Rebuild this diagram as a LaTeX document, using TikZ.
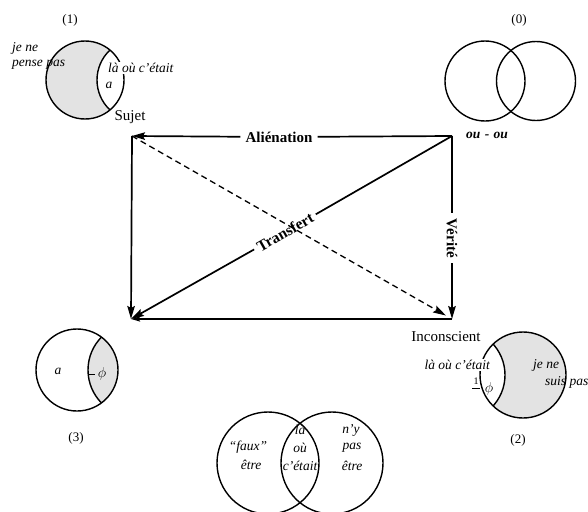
\documentclass[tikz,border=0pt]{standalone}
\usepackage{fontspec}
\setmainfont{Liberation Serif}
\usetikzlibrary{arrows.meta}
\begin{document}
\begin{tikzpicture}[x=1pt,y=-1pt,
  ring/.style={line width=1.4pt},
  conn/.style={line width=1.7pt},
  tipd/.style={-{Stealth[length=13pt,width=7.5pt,inset=2pt]}},
  tips/.style={-{Stealth[length=9pt,width=5pt,inset=1.5pt]}},
  shade/.style={fill=black!11},
  lab/.style={font=\fontsize{15}{17}\selectfont, inner sep=1pt},
  axis/.style={font=\fontsize{15}{17}\selectfont\bfseries, inner sep=5pt},
  itl/.style={font=\fontsize{13.5}{16}\selectfont\itshape, inner sep=1pt},
  num/.style={font=\fontsize{13}{15}\selectfont, inner sep=1pt}
]
\useasboundingbox (0,0) rectangle (588,511);

% ---- corners of the square ----
\coordinate (TL) at (132,136);
\coordinate (TR) at (452,136);
\coordinate (BL) at (131,319);
\coordinate (BR) at (452,319);

% ---- (1): subject circle ----
\begin{scope}
  \clip (85,80) circle[radius=39pt];
  \fill[shade] (85,80) circle[radius=39pt];
  \fill[white] (138,80) circle[radius=41pt];
  \draw[ring] (138,80) circle[radius=41pt];
\end{scope}
\draw[ring] (85,80) circle[radius=39pt];
\node[num] (n1) at (70,20) {(1)};
\node[itl, anchor=west] (jn1) at (11,48) {je ne};
\node[itl, anchor=west] (pp1) at (11,65) {pense pas};
\node[itl, anchor=west, fill=white] (lo1) at (107,68) {là où c'était};
\node[itl] (a1) at (109,85) {a};
\node[lab] (sujet) at (130,117) {Sujet};

% ---- (0): ou - ou ----
\draw[ring] (485,81) circle[radius=40pt];
\draw[ring] (536,81) circle[radius=39.5pt];
\node[num] (n0) at (519,20) {(0)};
\node[itl, font=\fontsize{13.5}{16}\selectfont\itshape\bfseries] (ouou) at (487,135) {ou\,\,-\,\,ou};

% ---- (3) ----
\begin{scope}
  \clip (77,370) circle[radius=41pt];
  \fill[shade] (135,370) circle[radius=47pt];
  \draw[ring] (135,370) circle[radius=47pt];
\end{scope}
\draw[ring] (77,370) circle[radius=41pt];
\node[itl] (a3) at (58,371) {a};
\coordinate (m3a) at (88,374);
\coordinate (m3b) at (95,374);
\draw[line width=1pt] (m3a) -- (m3b);
\node[lab, font=\fontsize{14}{16}\selectfont] (phi3) at (102,374) {$\phi$};
\node[num] (n3) at (76,438) {(3)};

% ---- (2): unconscious circle ----
\begin{scope}
  \clip (523,375) circle[radius=43pt];
  \fill[shade] (523,375) circle[radius=43pt];
  \fill[white] (459,375) circle[radius=46pt];
  \draw[ring] (459,375) circle[radius=46pt];
\end{scope}
\draw[ring] (523,375) circle[radius=43pt];
\node[itl, anchor=east, fill=white] (lo2) at (491,365) {là où c'était};
\node[itl, anchor=west] (jn2) at (532,365) {je ne};
\node[itl, anchor=west] (sp2) at (544,382) {suis pas};
\node[lab, font=\fontsize{10}{12}\selectfont] (one2) at (476,381) {1};
\coordinate (b2a) at (472,388);
\coordinate (b2b) at (480,388);
\draw[line width=0.9pt] (b2a) -- (b2b);
\node[lab, font=\fontsize{14}{16}\selectfont] (phi2) at (489,389) {$\phi$};
\node[num] (n2) at (518,440) {(2)};
\node[lab] (inco) at (446,337) {Inconscient};

% ---- bottom Venn diagram ----
\draw[ring] (268,463) circle[radius=51pt];
\draw[ring] (332,463) circle[radius=51pt];
\node[itl] (fx1) at (248,447) {“faux”};
\node[itl] (fx2) at (251,465) {être};
\node[itl] (lo3a) at (300,430) {là};
\node[itl] (lo3b) at (300,448) {où};
\node[itl] (lo3c) at (300,466) {c'était};
\node[itl] (ny1) at (351,430) {n'y};
\node[itl] (ny2) at (352,448) {pas};
\node[itl] (ny3) at (352,466) {être};

% ---- square of the four terms ----
\node[axis] (alien) at (279,137) {Aliénation};
\node[axis, rotate=-90] (verite) at (452,238) {Vérité};
\node[axis, rotate=29.7, inner sep=4pt, font=\fontsize{15.5}{17}\selectfont\bfseries] (transf) at (285,232) {Transfert};

\draw[conn] (TR) -- (alien);
\draw[conn, tipd] (alien) -- (TL);
\draw[conn] (TR) -- (verite);
\draw[conn, tipd] (verite) -- (BR);
\draw[conn] (TR) -- (transf);
\draw[conn, tipd] (transf) -- (BL);
\draw[conn, tipd] (TL) -- (BL);
\draw[conn, tips] (BR) -- (BL);
\draw[line width=1.3pt, dash pattern=on 6pt off 4pt, tipd, shorten >=7pt] (TL) -- (BR);
\end{tikzpicture}
\end{document}
